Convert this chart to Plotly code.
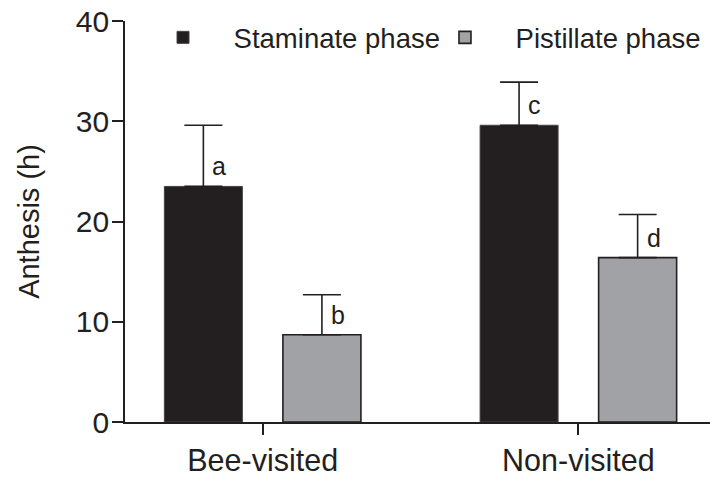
import plotly.graph_objects as go

# Flower anthesis duration by visitation treatment and floral phase
categories = ["Bee-visited", "Non-visited"]
staminate_mean = [23.5, 29.6]
staminate_err = [6.1, 4.3]
pistillate_mean = [8.7, 16.4]
pistillate_err = [4.0, 4.3]
staminate_letters = ["a", "c"]
pistillate_letters = ["b", "d"]
y_ticks = [0, 10, 20, 30, 40]

FONT = "Liberation Sans, Arial, Helvetica, sans-serif"
INK = "#231f20"
GREY = "#a1a2a5"
NBSP = "\u00a0"

bargap = 0.249
bargroupgap = 0.342
x_pos = list(range(len(categories)))

fig = go.Figure()
fig.add_trace(go.Bar(
    x=x_pos, y=staminate_mean, name=NBSP * 4 + "Staminate phase",
    marker=dict(color=INK, line=dict(color="#444444", width=1)),
    error_y=dict(type="data", array=staminate_err, arrayminus=[0] * len(staminate_err),
                 symmetric=False, color=INK, thickness=1.6, width=19),
))
fig.add_trace(go.Bar(
    x=x_pos, y=pistillate_mean, name=NBSP * 4 + "Pistillate phase",
    marker=dict(color=GREY, line=dict(color=INK, width=1.6)),
    error_y=dict(type="data", array=pistillate_err, arrayminus=[0] * len(pistillate_err),
                 symmetric=False, color=INK, thickness=1.6, width=19),
))

# significance letters beside each error bar
offset = (1 - bargap) / 4
for i in x_pos:
    for sign, means, letters in ((-1, staminate_mean, staminate_letters),
                                 (1, pistillate_mean, pistillate_letters)):
        fig.add_annotation(
            x=i + sign * offset, y=means[i], text=letters[i],
            xref="x", yref="y", showarrow=False,
            xanchor="left", yanchor="middle", xshift=7, yshift=20,
            font=dict(family=FONT, size=25, color=INK),
        )

fig.update_layout(
    width=710, height=477,
    margin=dict(l=125, r=0, t=21, b=50),
    paper_bgcolor="white", plot_bgcolor="white",
    barmode="group", bargap=bargap, bargroupgap=bargroupgap,
    font=dict(family=FONT, size=28, color=INK),
    showlegend=True,
    legend=dict(
        orientation="h", x=0.065, y=1.02, xanchor="left", yanchor="top",
        font=dict(family=FONT, size=27.5, color=INK),
        bgcolor="rgba(0,0,0,0)", itemclick=False,
    ),
)
fig.update_xaxes(
    range=[-0.436, 1.417], tickvals=x_pos, ticktext=categories,
    showline=True, linecolor=INK, linewidth=1.6,
    ticks="outside", ticklen=11, tickwidth=1.6, tickcolor=INK,
    showgrid=False, zeroline=False,
    tickfont=dict(family=FONT, size=30.5, color=INK),
)
fig.update_yaxes(
    range=[0, 40], tickvals=y_ticks,
    showline=True, linecolor=INK, linewidth=1.6,
    ticks="outside", ticklen=11, tickwidth=1.6, tickcolor=INK,
    ticklabelstandoff=-3,
    showgrid=False, zeroline=False,
    tickfont=dict(family=FONT, size=30, color=INK),
    title=dict(text="Anthesis (h)", standoff=28,
               font=dict(family=FONT, size=29, color=INK)),
)

fig.write_html("out.html")
